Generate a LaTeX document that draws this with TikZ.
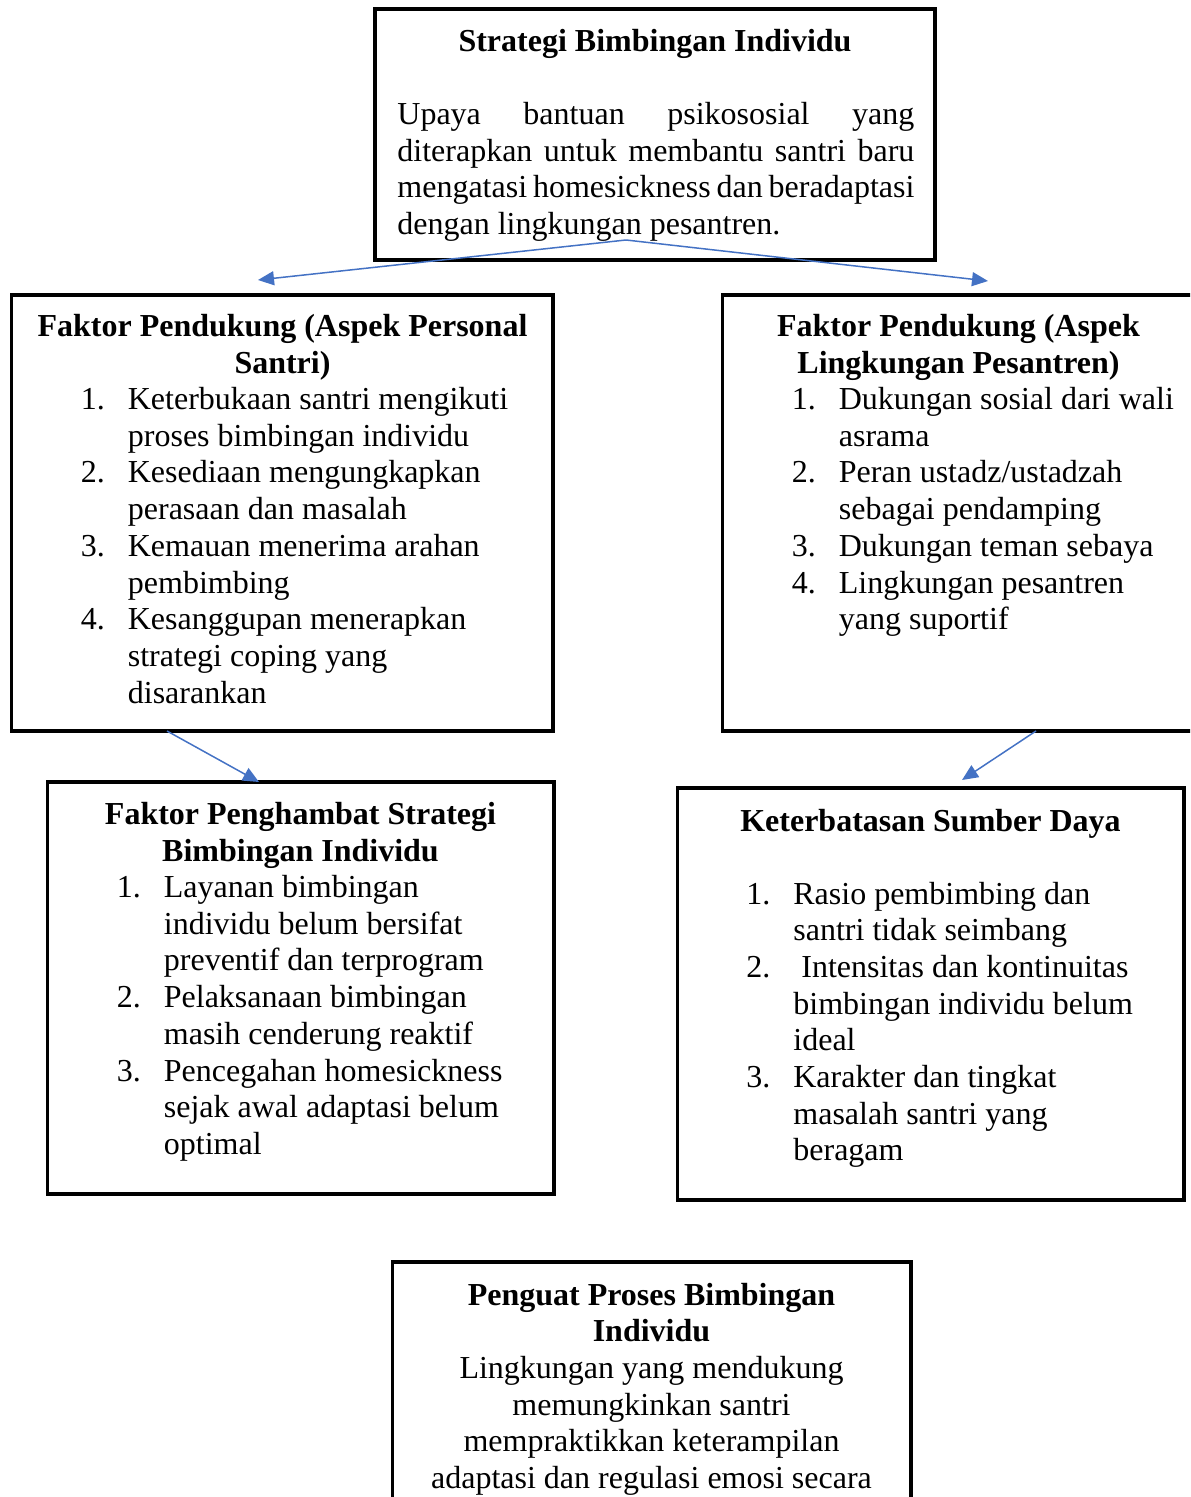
\documentclass[tikz,border=0pt]{standalone}
\usepackage{fontspec}
\setmainfont{Liberation Serif}
\usetikzlibrary{arrows.meta}
\definecolor{linkblue}{HTML}{4472C4}
\newcommand{\numitem}[2]{\makebox[23.5pt][l]{#1}#2}
\newcommand{\contline}[1]{\hspace*{23.5pt}#1}

\begin{document}
\begin{tikzpicture}[x=0.5pt, y=-0.5pt,
  box/.style={draw, line width=1.6pt, inner sep=0pt, outer sep=0pt, anchor=north west},
  link/.style={draw=linkblue, line width=0.75pt, -{Triangle[length=8pt, width=7pt, fill=linkblue]}},
  txt/.style={inner sep=0pt, font=\fontsize{16}{18.35}\selectfont}]
\useasboundingbox (0,0) rectangle (1190,1497);
\clip (0,0) rectangle (1190,1497);

% boxes
\node[box, minimum width=280pt, minimum height=125.5pt] (strategi) at (375,9) {};
\node[box, minimum width=270.75pt, minimum height=218pt] (personal) at (11.5,295) {};
\node[box, minimum width=236.25pt, minimum height=218pt] (lingkungan) at (722.5,295) {};
\node[box, minimum width=253.25pt, minimum height=206pt] (penghambat) at (47.5,782) {};
\node[box, minimum width=253.25pt, minimum height=206pt] (sumberdaya) at (677.5,788) {};
\node[box, minimum width=259.25pt, minimum height=130pt] (penguat) at (392.5,1262) {};

% top box
\node[txt, anchor=base] (strategi-t) at (655,51.5) {\bfseries Strategi Bimbingan Individu};
\node[txt, anchor=base west] (strategi-b) at (397,124.5) {\parbox[t]{258.5pt}{%
Upaya bantuan psikososial yang\linebreak
diterapkan untuk membantu santri baru\linebreak
mengatasi homesickness dan beradaptasi\linebreak
dengan lingkungan pesantren.}};

% faktor pendukung personal
\node[txt, anchor=base] (personal-t) at (282.5,336.5) {\parbox[t]{262pt}{\centering\bfseries
Faktor Pendukung (Aspek Personal\\ Santri)}};
\node[txt, anchor=base west] (personal-b) at (80.5,409.5) {\parbox[t]{230pt}{%
\numitem{1.}{Keterbukaan santri mengikuti}\\
\contline{proses bimbingan individu}\\
\numitem{2.}{Kesediaan mengungkapkan}\\
\contline{perasaan dan masalah}\\
\numitem{3.}{Kemauan menerima arahan}\\
\contline{pembimbing}\\
\numitem{4.}{Kesanggupan menerapkan}\\
\contline{strategi coping yang}\\
\contline{disarankan}}};

% faktor pendukung lingkungan
\node[txt, anchor=base] (lingkungan-t) at (958.5,336.5) {\parbox[t]{230pt}{\centering\bfseries
Faktor Pendukung (Aspek\\ Lingkungan Pesantren)}};
\node[txt, anchor=base west] (lingkungan-b) at (791.5,409.5) {\parbox[t]{200pt}{%
\numitem{1.}{Dukungan sosial dari wali}\\
\contline{asrama}\\
\numitem{2.}{Peran ustadz/ustadzah}\\
\contline{sebagai pendamping}\\
\numitem{3.}{Dukungan teman sebaya}\\
\numitem{4.}{Lingkungan pesantren}\\
\contline{yang suportif}}};

% faktor penghambat
\node[txt, anchor=base] (penghambat-t) at (300.5,824.5) {\parbox[t]{240pt}{\centering\bfseries
Faktor Penghambat Strategi\\ Bimbingan Individu}};
\node[txt, anchor=base west] (penghambat-b) at (116.5,897.5) {\parbox[t]{215pt}{%
\numitem{1.}{Layanan bimbingan}\\
\contline{individu belum bersifat}\\
\contline{preventif dan terprogram}\\
\numitem{2.}{Pelaksanaan bimbingan}\\
\contline{masih cenderung reaktif}\\
\numitem{3.}{Pencegahan homesickness}\\
\contline{sejak awal adaptasi belum}\\
\contline{optimal}}};

% keterbatasan sumber daya
\node[txt, anchor=base] (sumberdaya-t) at (930.5,831) {\bfseries Keterbatasan Sumber Daya};
\node[txt, anchor=base west] (sumberdaya-b) at (746,904) {\parbox[t]{215pt}{%
\numitem{1.}{Rasio pembimbing dan}\\
\contline{santri tidak seimbang}\\
\numitem{2.}{\hspace*{4pt}Intensitas dan kontinuitas}\\
\contline{bimbingan individu belum}\\
\contline{ideal}\\
\numitem{3.}{Karakter dan tingkat}\\
\contline{masalah santri yang}\\
\contline{beragam}}};

% penguat
\node[txt, anchor=base] (penguat-t) at (651.5,1305) {\parbox[t]{250pt}{\centering
{\bfseries Penguat Proses Bimbingan\\ Individu}\\
Lingkungan yang mendukung\\
memungkinkan santri\\
mempraktikkan keterampilan\\
adaptasi dan regulasi emosi secara}};

% arrows
\coordinate (fork) at (626,240);
\coordinate (tipL) at (258,280);
\coordinate (tipR) at (988,281);
\coordinate (fromP) at (167,731);
\coordinate (tipH) at (259,782);
\coordinate (fromL) at (1036,731);
\coordinate (tipS) at (962,780);
\draw[link] (fork) -- (tipL);
\draw[link] (fork) -- (tipR);
\draw[link] (fromP) -- (tipH);
\draw[link] (fromL) -- (tipS);
\end{tikzpicture}
\end{document}
